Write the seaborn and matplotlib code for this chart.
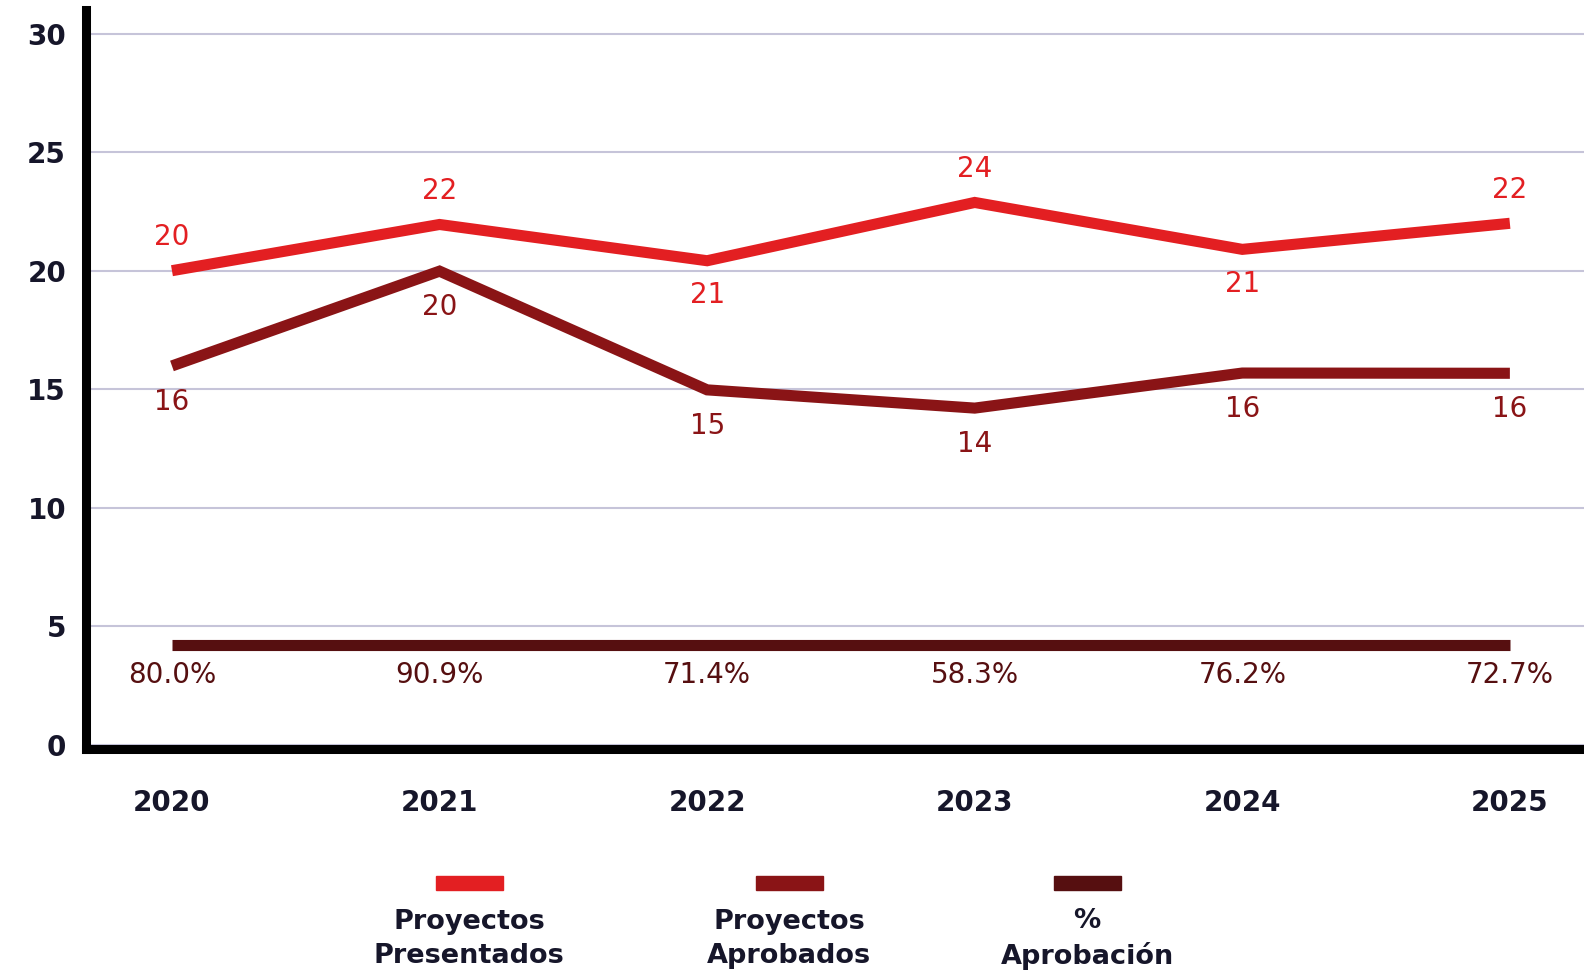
import numpy as np
import pandas as pd
import matplotlib
matplotlib.use("Agg")
import matplotlib.pyplot as plt
import seaborn as sns

sns.set_style("white")
plt.rcParams['font.family'] = ['DejaVu Sans']

# Data (plotted levels as drawn, labels as printed)
years = [2020, 2021, 2022, 2023, 2024, 2025]
presentados = [20.0, 21.95, 20.42, 22.88, 20.9, 22.0]
aprobados = [15.98, 19.98, 14.97, 14.2, 15.68, 15.67]
pct_level = [4.22, 4.22, 4.22, 4.22, 4.22, 4.22]

presentados_lbl = ["20", "22", "21", "24", "21", "22"]
aprobados_lbl = ["16", "20", "15", "14", "16", "16"]
pct_lbl = ["80.0%", "90.9%", "71.4%", "58.3%", "76.2%", "72.7%"]

series_names = ["Proyectos\nPresentados", "Proyectos\nAprobados", "%\nAprobación"]
colors = ["#e31f22", "#8a1416", "#560f10"]
text_color = "#16162a"

df = pd.DataFrame({"year": years, "pres": presentados, "apr": aprobados, "pct": pct_level})

fig = plt.figure(figsize=(15.84, 9.77), dpi=100)
ax = fig.add_axes([0.054, 0.2338, 0.946, 0.7559])

for col, c in zip(["pres", "apr", "pct"], colors):
    sns.lineplot(data=df, x="year", y=col, ax=ax, color=c, linewidth=8,
                 solid_capstyle="butt", solid_joinstyle="miter", zorder=3)

ax.set_xlim(2019.677, 2025.277)
ax.set_ylim(-0.17, 31)
ax.set_yticks(range(0, 31, 5))
ax.set_xticks(years)
ax.set_xlabel("")
ax.set_ylabel("")

ax.grid(axis="y", color="#c6c4d9", linewidth=1.5, zorder=0)
ax.grid(axis="x", visible=False)
for s in ["top", "right"]:
    ax.spines[s].set_visible(False)
for s in ["left", "bottom"]:
    ax.spines[s].set_linewidth(6.5)
    ax.spines[s].set_color("black")
    ax.spines[s].set_zorder(5)

ax.tick_params(axis="y", length=0, pad=14, labelsize=20, labelcolor=text_color)
ax.tick_params(axis="x", length=0, pad=29, labelsize=20, labelcolor=text_color)
for lab in ax.get_xticklabels() + ax.get_yticklabels():
    lab.set_fontweight("bold")

# data labels
for i, (x, y, t) in enumerate(zip(years, presentados, presentados_lbl)):
    prev_y = presentados[i - 1] if i > 0 else None
    next_y = presentados[i + 1] if i < len(years) - 1 else None
    dip = (prev_y is not None and prev_y > y) and (next_y is None or next_y > y)
    off = -25 if dip else 24
    ax.annotate(t, (x, y), xytext=(0, off), textcoords="offset points",
                ha="center", va="center", fontsize=20, color=colors[0])

for x, y, t in zip(years, aprobados, aprobados_lbl):
    ax.annotate(t, (x, y), xytext=(0, -26), textcoords="offset points",
                ha="center", va="center", fontsize=20, color=colors[1])

for x, y, t in zip(years, pct_level, pct_lbl):
    ax.annotate(t, (x, y), xytext=(0, -22), textcoords="offset points",
                ha="center", va="center", fontsize=20, color=colors[2])

# legend: colour bar above each label
leg_x = [469 / 1584, 789 / 1584, 1087 / 1584]
for lx, name, c in zip(leg_x, series_names, colors):
    fig.patches.append(plt.Rectangle((lx - 33 / 1584, (977 - 890) / 977), 67 / 1584, 14 / 977,
                                     transform=fig.transFigure, color=c, figure=fig))
    fig.text(lx, (977 - 939) / 977, name, ha="center", va="center", fontsize=19.5,
             fontweight="bold", color=text_color, linespacing=1.4)

fig.savefig("out.png", dpi=100)
